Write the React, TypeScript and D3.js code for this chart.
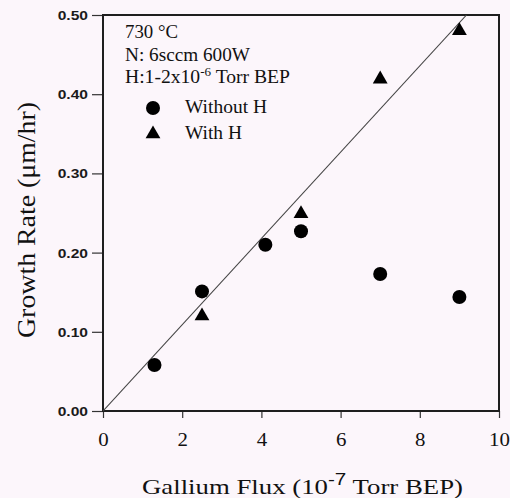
import React, { useEffect, useRef } from 'react';
import * as d3 from 'd3';

// Without H (circles)
const withoutHFlux = [1.3, 2.5, 4.1, 5.0, 7.0, 9.0];
const withoutHRate = [0.058, 0.151, 0.21, 0.227, 0.173, 0.144];
// With H (triangles)
const withHFlux = [2.5, 5.0, 7.0, 9.0];
const withHRate = [0.12, 0.249, 0.419, 0.48];
// straight guide line through origin
const guideFlux = [0, 9.18];
const guideRate = [0, 0.5];

const xTicks = [0, 2, 4, 6, 8, 10];
const yTicks = [0, 0.1, 0.2, 0.3, 0.4, 0.5];
const infoLines = ['730 °C', 'N: 6sccm 600W'];
const infoWidths = [53, 125];
const legendLabels = ['Without H', 'With H'];
const legendWidths = [82, 57];

const SERIF = '"Liberation Serif", "Times New Roman", serif';
const SANS = '"Liberation Sans", Arial, sans-serif';

export default function App() {
  const svgRef = useRef<SVGSVGElement | null>(null);

  useEffect(() => {
    if (!svgRef.current) return;
    const svg = d3.select(svgRef.current);
    svg.selectAll('*').remove();

    const width = 510;
    const height = 498;
    const plot = { left: 103, right: 499, top: 15, bottom: 411 };

    const x = d3.scaleLinear().domain([0, 10]).range([plot.left, plot.right]);
    const y = d3.scaleLinear().domain([0, 0.5]).range([plot.bottom, plot.top]);

    svg.append('rect').attr('width', width).attr('height', height).attr('fill', '#fcf6fb');

    svg.append('clipPath').attr('id', 'plot-clip')
      .append('rect')
      .attr('x', plot.left).attr('y', plot.top)
      .attr('width', plot.right - plot.left).attr('height', plot.bottom - plot.top);

    // axes
    const yAxis = svg.append('g')
      .attr('transform', `translate(${plot.left},0)`)
      .call(d3.axisLeft(y).tickValues(yTicks).tickSize(11).tickFormat(d3.format('.2f')));
    yAxis.select('.domain').remove();
    yAxis.selectAll('line').attr('stroke', '#333').attr('stroke-width', 1.2);
    yAxis.selectAll('text')
      .attr('x', 0).attr('dy', '0.35em')
      .attr('transform', 'translate(-15,0) scale(1.2,1)')
      .attr('font-family', SANS).attr('font-weight', 'bold').attr('font-size', 13)
      .attr('fill', '#1a1a1a');

    const xAxis = svg.append('g')
      .attr('transform', `translate(0,${plot.bottom})`)
      .call(d3.axisBottom(x).tickValues(xTicks).tickSize(7).tickFormat(d3.format('d')));
    xAxis.select('.domain').remove();
    xAxis.selectAll('line').attr('stroke', '#333').attr('stroke-width', 1.2);
    xAxis.selectAll('text')
      .attr('y', 0).attr('dy', 0)
      .attr('transform', 'translate(0,35) scale(1.1,1)')
      .attr('font-family', SERIF).attr('font-size', 19)
      .attr('fill', '#111');

    // frame
    svg.append('rect')
      .attr('x', plot.left).attr('y', plot.top)
      .attr('width', plot.right - plot.left).attr('height', plot.bottom - plot.top)
      .attr('fill', 'none').attr('stroke', '#1e1e1e').attr('stroke-width', 2);

    // guide line
    const line = d3.line<number>().x((d) => x(d)).y((_, i) => y(guideRate[i]));
    svg.append('path')
      .attr('d', line(guideFlux) ?? '')
      .attr('clip-path', 'url(#plot-clip)')
      .attr('fill', 'none').attr('stroke', '#444').attr('stroke-width', 1.1);

    // points
    svg.append('g').selectAll('circle')
      .data(withoutHFlux)
      .join('circle')
      .attr('cx', (d) => x(d))
      .attr('cy', (_, i) => y(withoutHRate[i]))
      .attr('r', 7)
      .attr('fill', '#000');

    const tri = d3.symbol().type(d3.symbolTriangle).size(95);
    svg.append('g').selectAll('path')
      .data(withHFlux)
      .join('path')
      .attr('d', tri() ?? '')
      .attr('transform', (d, i) => `translate(${x(d)},${y(withHRate[i])})`)
      .attr('fill', '#000');

    // info text + legend
    const info = svg.append('g').attr('font-family', SERIF).attr('font-size', 18).attr('fill', '#111');
    infoLines.forEach((t, i) => {
      info.append('text')
        .attr('x', 125).attr('y', 38 + i * 23)
        .attr('textLength', infoWidths[i]).attr('lengthAdjust', 'spacingAndGlyphs')
        .text(t);
    });
    const hLine = info.append('text')
      .attr('x', 125).attr('y', 83)
      .attr('textLength', 165).attr('lengthAdjust', 'spacingAndGlyphs');
    hLine.append('tspan').text('H:1-2x10');
    hLine.append('tspan').attr('font-size', 12).attr('dy', -7).text('-6');
    hLine.append('tspan').attr('dy', 7).text(' Torr BEP');

    info.append('circle').attr('cx', 153).attr('cy', 108).attr('r', 7).attr('fill', '#000');
    info.append('path').attr('d', tri() ?? '').attr('transform', 'translate(153,134)').attr('fill', '#000');
    legendLabels.forEach((t, i) => {
      info.append('text')
        .attr('x', 185).attr('y', 113 + i * 26)
        .attr('textLength', legendWidths[i]).attr('lengthAdjust', 'spacingAndGlyphs')
        .text(t);
    });

    // axis titles
    const xt = svg.append('text')
      .attr('x', 142).attr('y', 494)
      .attr('textLength', 321).attr('lengthAdjust', 'spacingAndGlyphs')
      .attr('font-family', SERIF).attr('font-size', 22).attr('fill', '#111');
    xt.append('tspan').text('Gallium Flux (10');
    xt.append('tspan').attr('font-size', 17).attr('dy', -9).attr('font-family', SANS).text('-7');
    xt.append('tspan').attr('dy', 9).text(' Torr BEP)');

    svg.append('text')
      .attr('transform', 'translate(35,220) rotate(-90)')
      .attr('text-anchor', 'middle')
      .attr('textLength', 236).attr('lengthAdjust', 'spacingAndGlyphs')
      .attr('font-family', SERIF).attr('font-size', 26).attr('fill', '#111')
      .text('Growth Rate (μm/hr)');
  }, []);

  return (
    <svg
      ref={svgRef}
      width={510}
      height={498}
      style={{ position: 'absolute', left: 0, top: 0, display: 'block' }}
    />
  );
}
